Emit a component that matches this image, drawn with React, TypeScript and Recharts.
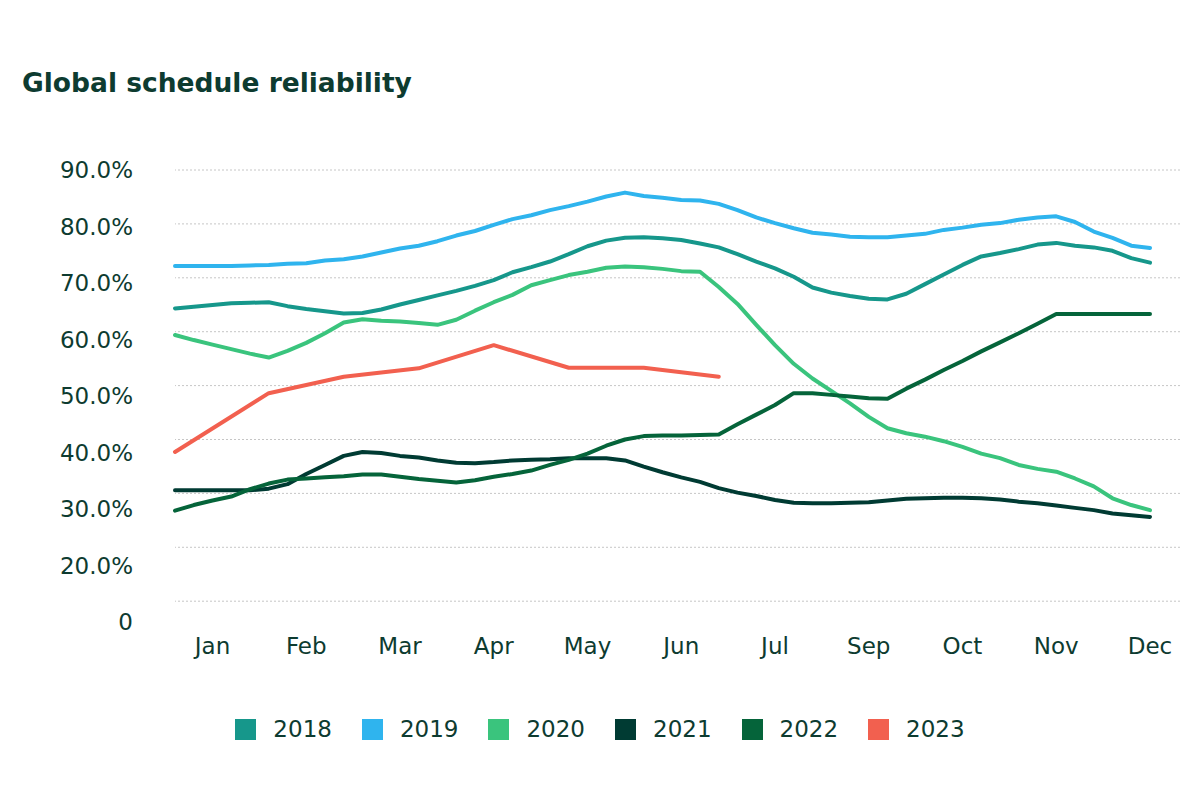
import { Legend, Line, LineChart, ReferenceLine, XAxis, YAxis } from 'recharts'

const FONT = '"DejaVu Sans", sans-serif'
const TEXT = '#0d3b30'

// weekly index 0..52, month labels sit every 5th week (Aug has no label in the source)
const months = ['Jan', 'Feb', 'Mar', 'Apr', 'May', 'Jun', 'Jul', 'Sep', 'Oct', 'Nov', 'Dec']
const monthTicks = [2, 7, 12, 17, 22, 27, 32, 37, 42, 47, 52]

// label axis: bottom tick is printed as "0"
const yTicks = [10, 20, 30, 40, 50, 60, 70, 80, 90]
// dotted grid lines follow their own spacing in the source
const gridTicks = [10, 20, 30, 40, 50, 60, 70, 80, 90]

const s2018 = [
  65.5, 65.8, 66.1, 66.4, 66.5, 66.6, 65.9, 65.4, 65.0, 64.6,
  64.7, 65.3, 66.2, 67.0, 67.8, 68.6, 69.5, 70.5, 71.9, 72.8,
  73.8, 75.1, 76.5, 77.5, 78.0, 78.1, 77.9, 77.6,
  77.0, 76.3, 75.1, 73.8, 72.6, 71.1, 69.2, 68.3, 67.7, 67.2,
  67.1, 68.1, 69.8, 71.5, 73.2, 74.7, 75.3, 76.0, 76.8, 77.1,
  76.6, 76.3, 75.7, 74.4, 73.6,
]
const s2019 = [
  73.0, 73.0, 73.0, 73.0, 73.1, 73.2, 73.4, 73.5, 74.0, 74.2,
  74.7, 75.4, 76.1, 76.6, 77.4, 78.4, 79.2, 80.3, 81.3, 82.0,
  82.9, 83.6, 84.4, 85.3, 86.0, 85.4, 85.1, 84.7,
  84.6, 84.0, 82.9, 81.6, 80.6, 79.7, 78.9, 78.6, 78.2, 78.1,
  78.1, 78.4, 78.7, 79.4, 79.8, 80.3, 80.6, 81.2, 81.6, 81.8,
  80.8, 79.1, 78.0, 76.6, 76.2,
]
const s2020 = [
  60.8, 59.9, 59.1, 58.3, 57.5, 56.8, 58.0, 59.4, 61.1, 63.0,
  63.6, 63.3, 63.2, 62.9, 62.6, 63.5, 65.1, 66.6, 67.9, 69.6,
  70.5, 71.4, 72.0, 72.7, 72.9, 72.8, 72.5, 72.1,
  72.0, 69.3, 66.3, 62.6, 59.0, 55.7, 53.1, 50.9, 48.7, 46.3,
  44.3, 43.4, 42.8, 42.0, 41.0, 39.8, 39.0, 37.8, 37.1, 36.6,
  35.4, 34.0, 31.9, 30.7, 29.8,
]
const s2021 = [
  33.3, 33.3, 33.3, 33.3, 33.3, 33.6, 34.4, 36.2, 37.8, 39.4,
  40.1, 39.9, 39.4, 39.1, 38.6, 38.2, 38.1, 38.3, 38.6, 38.7,
  38.8, 39.0, 39.0, 39.0, 38.6, 37.5, 36.5, 35.6,
  34.8, 33.7, 32.9, 32.3, 31.6, 31.1, 31.0, 31.0, 31.1, 31.2,
  31.5, 31.8, 31.9, 32.0, 32.0, 31.9, 31.7, 31.3, 31.0, 30.6,
  30.2, 29.8, 29.2, 28.9, 28.6,
]
const s2022 = [
  29.7, 30.7, 31.5, 32.2, 33.5, 34.5, 35.2, 35.4, 35.6, 35.8,
  36.1, 36.1, 35.7, 35.3, 35.0, 34.7, 35.1, 35.7, 36.2, 36.8,
  37.8, 38.7, 39.8, 41.2, 42.3, 42.9, 43.0, 43.0,
  43.1, 43.2, 45.0, 46.7, 48.4, 50.5, 50.5, 50.2, 49.9, 49.6,
  49.5, 51.3, 52.9, 54.6, 56.2, 57.9, 59.5, 61.1, 62.8, 64.5,
  64.5, 64.5, 64.5, 64.5, 64.5,
]
const s2023 = [
  40.1, null, null, null, null, 50.5, null, null, null, 53.4,
  null, null, null, 54.9, null, null, null, 59.0, null, null,
  null, 55.0, null, null, null, 55.0, null, null, null, 53.4,
]

const series = [
  { key: 'y2018', name: '2018', color: '#16978b' },
  { key: 'y2019', name: '2019', color: '#2fb4ee' },
  { key: 'y2020', name: '2020', color: '#3ac47d' },
  { key: 'y2021', name: '2021', color: '#003b33' },
  { key: 'y2022', name: '2022', color: '#05643a' },
  { key: 'y2023', name: '2023', color: '#f2604f' },
]

const data = s2018.map((v, i) => ({
  i,
  y2018: v,
  y2019: s2019[i],
  y2020: s2020[i],
  y2021: s2021[i],
  y2022: s2022[i],
  y2023: s2023[i] ?? null,
}))

function LegendContent({ payload }: { payload?: Array<{ value: string; color: string }> }) {
  if (!payload) return null
  return (
    <div
      style={{
        display: 'flex',
        justifyContent: 'center',
        fontFamily: FONT,
        fontSize: 23,
        color: TEXT,
      }}
    >
      {payload.map((p, idx) => (
        <div
          key={p.value}
          style={{
            display: 'flex',
            alignItems: 'center',
            marginRight: idx < payload.length - 1 ? 30 : 0,
          }}
        >
          <span
            style={{ display: 'inline-block', width: 21, height: 21, background: p.color, marginRight: 17 }}
          />
          <span>{p.value}</span>
        </div>
      ))}
    </div>
  )
}

export default function App() {
  const tickStyle = { fill: TEXT, fontSize: 23, fontFamily: FONT }
  return (
    <div style={{ position: 'relative', width: 1200, height: 800, background: '#fff' }}>
      <style>{'body{margin:0}'}</style>
      <div
        style={{
          position: 'absolute',
          left: 22,
          top: 69,
          fontFamily: FONT,
          fontWeight: 700,
          fontSize: 26.5,
          lineHeight: '27px',
          color: TEXT,
          whiteSpace: 'nowrap',
        }}
      >
        Global schedule reliability
      </div>
      <LineChart
        width={1200}
        height={800}
        data={data}
        margin={{ top: 170, right: 20, left: 0, bottom: 138 }}
      >
        <XAxis
          dataKey='i'
          type='number'
          domain={[0, 53.6]}
          ticks={monthTicks}
          interval={0}
          tickFormatter={v => months[monthTicks.indexOf(v)] ?? ''}
          axisLine={false}
          tickLine={false}
          tickSize={0}
          tickMargin={16}
          height={40}
          tick={tickStyle}
        />
        <YAxis
          yAxisId='val'
          type='number'
          domain={[10, 90]}
          ticks={yTicks}
          interval={0}
          tickFormatter={v => (v === 10 ? '0' : `${v}.0%`)}
          axisLine={false}
          tickLine={false}
          tickSize={0}
          tickMargin={42}
          width={175}
          tick={tickStyle}
        />
        <YAxis
          yAxisId='grid'
          orientation='right'
          type='number'
          domain={[6.14, 90]}
          allowDataOverflow
          width={0}
          hide
        />
        {gridTicks.map(t => (
          <ReferenceLine
            key={t}
            yAxisId='grid'
            y={t}
            stroke='#c6c6c6'
            strokeDasharray='2 2'
          />
        ))}
        <Legend
          layout='horizontal'
          verticalAlign='middle'
          align='center'
          wrapperStyle={{ top: 716, left: 0, width: 1200 }}
          content={<LegendContent />}
        />
        {series.map(s => (
          <Line
            key={s.key}
            yAxisId='val'
            type='linear'
            dataKey={s.key}
            name={s.name}
            stroke={s.color}
            strokeWidth={4}
            strokeLinejoin='round'
            strokeLinecap='round'
            dot={false}
            connectNulls
            isAnimationActive={false}
          />
        ))}
      </LineChart>
    </div>
  )
}
